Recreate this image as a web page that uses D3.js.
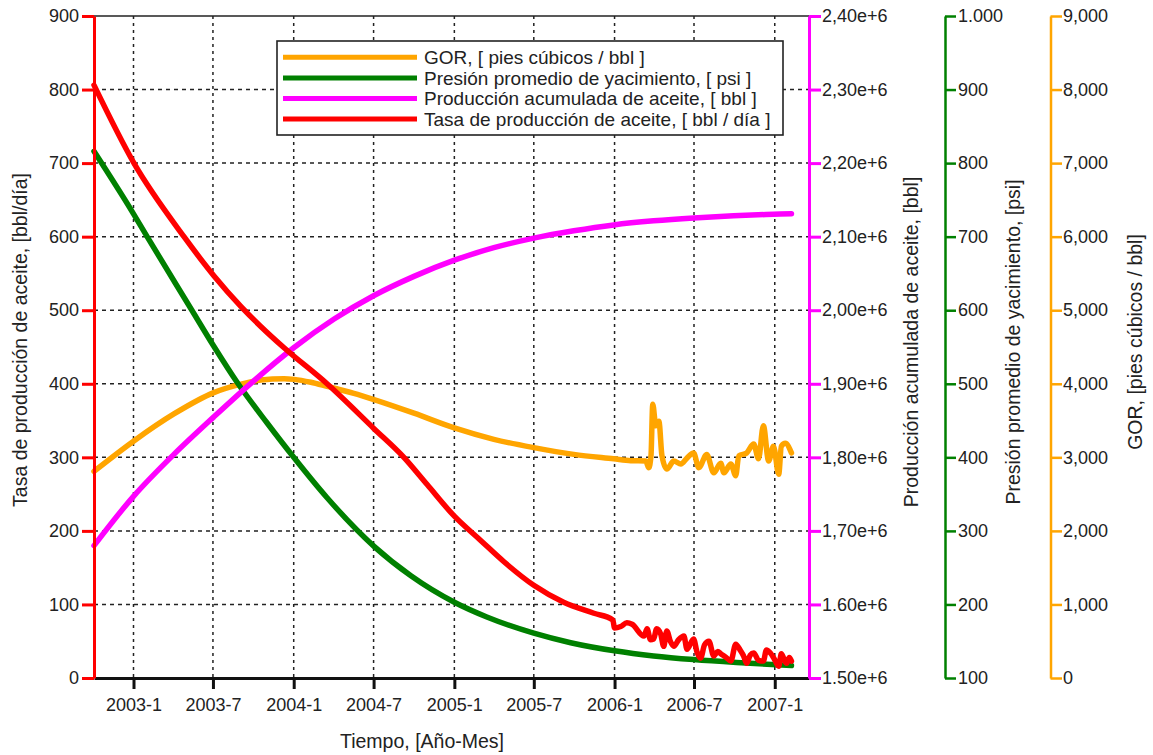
<!DOCTYPE html>
<html>
<head>
<meta charset="utf-8">
<script src="https://cdn.jsdelivr.net/npm/d3@7/dist/d3.min.js"></script>
<style>
  body { margin: 0; background: #fff; }
  svg text { font-family: "Liberation Sans", Arial, sans-serif; fill: #222; }
</style>
</head>
<body>
<svg id="grafica" width="1153" height="755"></svg>
<script>
// ---- Datos ----
const fechasEje = ["2003-01-01","2003-07-01","2004-01-01","2004-07-01","2005-01-01","2005-07-01","2006-01-01","2006-07-01","2007-01-01"];
const etiquetasEje = ["2003-1","2003-7","2004-1","2004-7","2005-1","2005-7","2006-1","2006-7","2007-1"];

const ticksTasa = [0,100,200,300,400,500,600,700,800,900];
const ticksAcumulada = [1.5e6,1.6e6,1.7e6,1.8e6,1.9e6,2.0e6,2.1e6,2.2e6,2.3e6,2.4e6];
const etiquetasAcumulada = ["1.50e+6","1.60e+6","1,70e+6","1,80e+6","1,90e+6","2,00e+6","2,10e+6","2,20e+6","2,30e+6","2,40e+6"];
const ticksPresion = [100,200,300,400,500,600,700,800,900,1000];
const etiquetasPresion = ["100","200","300","400","500","600","700","800","900","1.000"];
const ticksGor = [0,1000,2000,3000,4000,5000,6000,7000,8000,9000];
const etiquetasGor = ["0","1,000","2,000","3,000","4,000","5,000","6,000","7,000","8,000","9,000"];

// GOR [pies cúbicos / bbl]
const gor = [
  ["2002-10-03",2810],["2003-01-01",3220],["2003-04-03",3590],["2003-07-03",3880],
  ["2003-09-03",3995],["2003-10-18",4050],["2003-12-10",4070],["2004-01-02",4060],
  ["2004-02-09",4020],["2004-03-17",3965],["2004-05-17",3870],["2004-07-02",3785],
  ["2004-10-01",3600],["2005-01-01",3400],["2005-04-01",3245],["2005-07-01",3132],
  ["2005-09-30",3040],["2005-12-30",2980],["2006-02-07",2955],["2006-03-13",2950],
  ["2006-03-20",2860],["2006-03-25",3020],["2006-03-29",3720],["2006-04-05",3430],
  ["2006-04-12",3490],["2006-04-19",3020],["2006-04-30",2840],["2006-05-16",2950],
  ["2006-06-01",2910],["2006-06-15",2990],["2006-06-30",3060],["2006-07-12",2860],
  ["2006-07-30",3040],["2006-08-15",2790],["2006-08-31",2920],["2006-09-07",2790],
  ["2006-09-23",2910],["2006-10-04",2750],["2006-10-11",3020],["2006-10-29",3060],
  ["2006-11-14",3180],["2006-11-25",2980],["2006-12-06",3430],["2006-12-18",2950],
  ["2006-12-29",3150],["2007-01-10",2770],["2007-01-16",3150],["2007-01-25",3190],
  ["2007-02-08",3060]
];

// Presión promedio de yacimiento [psi]
const presion = [
  ["2002-10-03",816],["2003-01-01",731],["2003-02-01",700],["2003-05-14",600],
  ["2003-07-03",551],["2003-08-25",502],["2003-11-01",447],["2004-01-01",400],
  ["2004-03-17",345],["2004-07-02",279],["2004-09-24",239],["2005-01-01",203],
  ["2005-03-16",183],["2005-07-01",161],["2005-09-23",148],["2006-01-01",137],
  ["2006-03-31",130],["2006-06-30",125],["2006-10-06",121],["2007-02-08",117]
];

// Producción acumulada de aceite [bbl]
const acumulada = [
  ["2002-10-03",1.680e6],["2003-01-01",1.747e6],["2003-04-03",1.804e6],["2003-07-03",1.855e6],
  ["2003-10-02",1.904e6],["2004-01-01",1.949e6],["2004-04-02",1.988e6],["2004-07-02",2.020e6],
  ["2004-10-01",2.046e6],["2005-01-01",2.068e6],["2005-04-01",2.085e6],["2005-07-01",2.098e6],
  ["2005-09-30",2.108e6],["2005-12-30",2.116e6],["2006-03-31",2.1215e6],["2006-06-30",2.1255e6],
  ["2006-09-29",2.1285e6],["2006-12-29",2.1305e6],["2007-02-08",2.1313e6]
];

// Tasa de producción de aceite [bbl / día]
const tasa = [
  ["2002-10-03",806],["2003-01-01",701],["2003-04-26",600],["2003-07-03",547],
  ["2003-09-03",505],["2003-10-18",478],["2003-12-10",449],["2004-03-17",400],
  ["2004-07-02",339],["2004-09-08",300],["2004-10-31",263],["2005-01-01",220],
  ["2005-03-02",187],["2005-04-24",158],["2005-07-01",126],["2005-09-07",103],
  ["2005-11-15",88],["2005-12-28",79],["2006-01-01",68],
  ["2006-01-15",70],["2006-01-29",75],["2006-02-10",73],["2006-03-09",57],
  ["2006-03-16",67],["2006-03-24",52],["2006-03-31",53],["2006-04-07",67],
  ["2006-04-16",60],["2006-04-23",43],["2006-04-30",64],["2006-05-08",50],
  ["2006-05-16",43],["2006-05-27",52],["2006-06-08",57],["2006-06-15",39],
  ["2006-06-30",53],["2006-07-08",35],["2006-07-16",27],["2006-07-25",45],
  ["2006-08-04",50],["2006-08-15",30],["2006-08-24",36],["2006-08-31",33],
  ["2006-09-12",28],["2006-09-23",23],["2006-10-04",46],["2006-10-15",37],
  ["2006-10-22",30],["2006-10-29",20],["2006-11-06",31],["2006-11-14",34],
  ["2006-11-25",24],["2006-12-06",23],["2006-12-13",38],["2006-12-22",34],
  ["2006-12-30",27],["2007-01-10",16],["2007-01-16",33],["2007-01-22",26],
  ["2007-01-28",20],["2007-02-03",28],["2007-02-08",23]
];

const series = [
  { nombre: "GOR, [ pies cúbicos / bbl ]", datos: gor, color: "#FFA500", escala: "gor" },
  { nombre: "Presión promedio de yacimiento, [ psi ]", datos: presion, color: "#008000", escala: "presion" },
  { nombre: "Producción acumulada de aceite, [ bbl ]", datos: acumulada, color: "#FF00FF", escala: "acumulada" },
  { nombre: "Tasa de producción de aceite, [ bbl / día ]", datos: tasa, color: "#FF0000", escala: "tasa" }
];

// ---- Geometría ----
const izq = 94, der = 809, arriba = 16, abajo = 678;
const parse = d3.timeParse("%Y-%m-%d");

const x = d3.scaleTime()
  .domain([parse("2002-10-03"), parse("2007-03-20")])
  .range([izq, der]);

const escalas = {
  tasa: d3.scaleLinear().domain([0, 900]).range([abajo, arriba]),
  acumulada: d3.scaleLinear().domain([1.5e6, 2.4e6]).range([abajo, arriba]),
  presion: d3.scaleLinear().domain([100, 1000]).range([abajo, arriba]),
  gor: d3.scaleLinear().domain([0, 9000]).range([abajo, arriba])
};

const svg = d3.select("#grafica");

// ---- Rejilla ----
const rejilla = svg.append("g").attr("stroke", "#222").attr("stroke-width", 1.5).attr("fill", "none");
rejilla.selectAll(".v").data(fechasEje.map(parse)).join("line")
  .attr("x1", d => x(d)).attr("x2", d => x(d))
  .attr("y1", arriba).attr("y2", abajo)
  .attr("stroke-dasharray", "3,4");
rejilla.selectAll(".h").data(ticksTasa.filter(v => v > 0 && v < 900)).join("line")
  .attr("x1", izq).attr("x2", der)
  .attr("y1", d => escalas.tasa(d)).attr("y2", d => escalas.tasa(d))
  .attr("stroke-dasharray", "4,4");

// Borde superior
svg.append("line").attr("x1", izq).attr("x2", der).attr("y1", arriba).attr("y2", arriba)
  .attr("stroke", "#222").attr("stroke-width", 1.6);

// ---- Series ----
const linea = esc => d3.line()
  .x(d => x(parse(d[0])))
  .y(d => escalas[esc](d[1]))
  .curve(d3.curveMonotoneX);

svg.append("g").selectAll("path").data(series).join("path")
  .attr("d", s => linea(s.escala)(s.datos))
  .attr("fill", "none")
  .attr("stroke", s => s.color)
  .attr("stroke-width", 5.5)
  .attr("stroke-linejoin", "round")
  .attr("stroke-linecap", "round");

// ---- Ejes ----
function estilo(g, color, ancho) {
  g.selectAll("path.domain").attr("stroke", color).attr("stroke-width", ancho);
  g.selectAll(".tick line").attr("stroke", color).attr("stroke-width", ancho);
  g.selectAll(".tick text").style("font-size", "18px").attr("fill", "#222");
  g.attr("font-family", null);
}

// Eje X
const ejeX = svg.append("g").attr("transform", `translate(0,${abajo})`)
  .call(d3.axisBottom(x)
    .tickValues(fechasEje.map(parse))
    .tickFormat((d, i) => etiquetasEje[i])
    .tickSize(11).tickSizeOuter(0).tickPadding(9));
estilo(ejeX, "#111", 3);

// Tasa (izquierda)
const ejeTasa = svg.append("g").attr("transform", `translate(${izq},0)`)
  .call(d3.axisLeft(escalas.tasa).tickValues(ticksTasa).tickFormat(d3.format("d"))
    .tickSize(12).tickSizeOuter(0).tickPadding(3));
estilo(ejeTasa, "#FF0000", 3);

// Producción acumulada (derecha 1)
const ejeAcum = svg.append("g").attr("transform", `translate(${der},0)`)
  .call(d3.axisRight(escalas.acumulada).tickValues(ticksAcumulada)
    .tickFormat((d, i) => etiquetasAcumulada[i])
    .tickSize(12).tickSizeOuter(0).tickPadding(1));
estilo(ejeAcum, "#FF00FF", 3);

// Presión (derecha 2)
const ejePres = svg.append("g").attr("transform", "translate(945,0)")
  .call(d3.axisRight(escalas.presion).tickValues(ticksPresion)
    .tickFormat((d, i) => etiquetasPresion[i])
    .tickSize(11).tickSizeOuter(0).tickPadding(2));
estilo(ejePres, "#008000", 2.5);

// GOR (derecha 3)
const ejeGor = svg.append("g").attr("transform", "translate(1050.5,0)")
  .call(d3.axisRight(escalas.gor).tickValues(ticksGor)
    .tickFormat((d, i) => etiquetasGor[i])
    .tickSize(11.5).tickSizeOuter(0).tickPadding(1));
estilo(ejeGor, "#FFA500", 2.5);

// ---- Títulos de ejes ----
const titulo = (txt, tx, ty, rot) => svg.append("text")
  .attr("transform", `translate(${tx},${ty})` + (rot ? " rotate(-90)" : ""))
  .attr("text-anchor", "middle")
  .style("font-size", "19.5px")
  .text(txt);

titulo("Tiempo, [Año-Mes]", 422, 748, false);
titulo("Tasa de producción de aceite, [bbl/día]", 27, 340, true);
titulo("Producción acumulada de aceite, [bbl]", 918, 342, true);
titulo("Presión promedio de yacimiento, [psi]", 1020, 342, true);
titulo("GOR, [pies cúbicos / bbl]", 1142, 342, true);

// ---- Leyenda ----
const ley = svg.append("g");
ley.append("rect").attr("x", 277).attr("y", 41).attr("width", 506).attr("height", 94)
  .attr("fill", "#fff").attr("stroke", "#222").attr("stroke-width", 1.6);
const filas = ley.selectAll("g.fila").data(series).join("g")
  .attr("transform", (d, i) => `translate(0,${57.3 + i * 20.6})`);
filas.append("line").attr("x1", 283).attr("x2", 417).attr("y1", 0).attr("y2", 0)
  .attr("stroke", d => d.color).attr("stroke-width", 5);
filas.append("text").attr("x", 424).attr("y", 6.8).style("font-size", "19px").text(d => d.nombre);
</script>
</body>
</html>
